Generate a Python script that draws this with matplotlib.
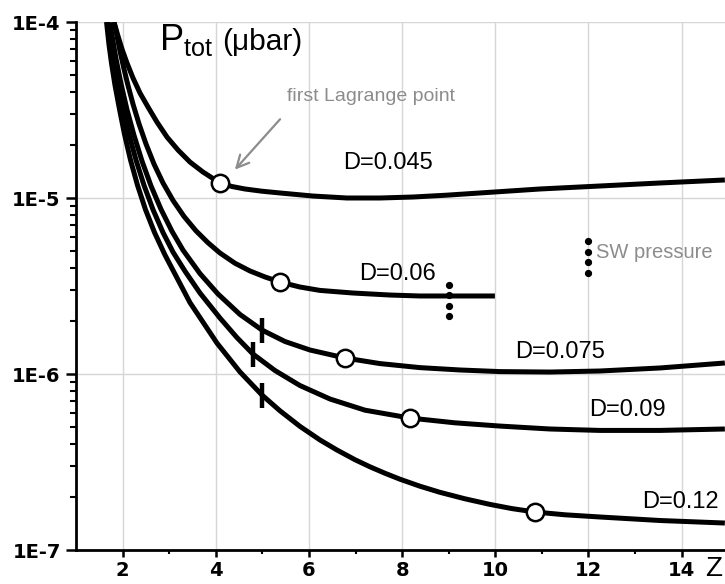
import matplotlib
matplotlib.use("Agg")
import matplotlib.pyplot as plt
from matplotlib.ticker import FixedLocator, LogLocator, NullFormatter

plt.rcParams['font.family'] = ['Liberation Sans', 'DejaVu Sans']
plt.rcParams['mathtext.fontset'] = 'custom'
plt.rcParams['mathtext.rm'] = 'Liberation Sans'

# ---- data ----
x_045 = [1.815, 1.901, 1.987, 2.094, 2.223, 2.373, 2.545, 2.738, 2.953, 3.189, 3.446, 3.725,
         4.090, 4.348, 4.627, 4.991, 5.378, 6.086, 6.815, 7.524, 8.232, 8.940, 9.670,
         10.957, 12.245, 13.532, 14.927]
y_045 = [1.0e-4, 8.33e-5, 7.02e-5, 5.85e-5, 4.81e-5, 3.95e-5, 3.29e-5, 2.70e-5, 2.22e-5,
         1.874e-5, 1.601e-5, 1.405e-5, 1.217e-5, 1.162e-5, 1.125e-5, 1.093e-5, 1.068e-5,
         1.026e-5, 1.0e-5, 1.0e-5, 1.013e-5, 1.037e-5, 1.068e-5, 1.125e-5, 1.170e-5,
         1.217e-5, 1.266e-5]

x_06 = [1.815, 1.858, 1.944, 2.030, 2.116, 2.223, 2.352, 2.502, 2.674, 2.867, 3.082, 3.318,
        3.575, 3.833, 4.090, 4.412, 4.734, 5.056, 5.378, 5.807, 6.236, 6.944, 7.738, 8.382,
        9.240, 9.991]
y_06 = [1.0e-4, 8.89e-5, 6.84e-5, 5.41e-5, 4.36e-5, 3.42e-5, 2.64e-5, 2.03e-5, 1.56e-5,
        1.218e-5, 9.69e-6, 7.86e-6, 6.51e-6, 5.57e-6, 4.87e-6, 4.26e-6, 3.85e-6, 3.56e-6,
        3.33e-6, 3.12e-6, 2.985e-6, 2.885e-6, 2.81e-6, 2.775e-6, 2.775e-6, 2.775e-6]

x_075 = [1.730, 1.773, 1.858, 1.966, 2.094, 2.245, 2.416, 2.609, 2.824, 3.060, 3.296, 3.661,
         4.047, 4.519, 4.991, 5.485, 6.021, 6.773, 7.524, 8.382, 9.240, 10.099, 11.172,
         12.245, 13.532, 14.927]
y_075 = [9.94e-5, 8.38e-5, 6.19e-5, 4.46e-5, 3.18e-5, 2.27e-5, 1.623e-5, 1.173e-5, 8.63e-6,
         6.47e-6, 5.06e-6, 3.72e-6, 2.85e-6, 2.18e-6, 1.778e-6, 1.530e-6, 1.369e-6, 1.233e-6,
         1.146e-6, 1.087e-6, 1.054e-6, 1.032e-6, 1.026e-6, 1.040e-6, 1.082e-6, 1.155e-6]

x_09 = [1.687, 1.751, 1.815, 1.901, 2.009, 2.137, 2.288, 2.459, 2.652, 2.867, 3.082, 3.339,
        3.661, 4.090, 4.455, 4.798, 5.270, 5.807, 6.451, 7.202, 8.167, 9.133, 10.099,
        11.172, 12.245, 13.532, 14.927]
y_09 = [1.0e-4, 7.44e-5, 5.83e-5, 4.37e-5, 3.20e-5, 2.30e-5, 1.644e-5, 1.182e-5, 8.60e-6,
        6.37e-6, 4.93e-6, 3.84e-6, 2.885e-6, 2.08e-6, 1.610e-6, 1.299e-6, 1.047e-6, 8.60e-7,
        7.21e-7, 6.23e-7, 5.62e-7, 5.28e-7, 5.06e-7, 4.87e-7, 4.78e-7, 4.78e-7, 4.87e-7]

x_12 = [1.655, 1.708, 1.762, 1.837, 1.933, 2.041, 2.170, 2.320, 2.491, 2.685, 2.910, 3.446,
        4.026, 4.519, 4.991, 5.378, 5.807, 6.236, 6.601, 6.987, 7.309, 7.631, 7.953, 8.382,
        8.811, 9.348, 9.884, 10.356, 10.850, 11.494, 12.245, 13.532, 14.927]
y_12 = [1.0e-4, 7.44e-5, 5.83e-5, 4.37e-5, 3.20e-5, 2.30e-5, 1.644e-5, 1.182e-5, 8.60e-6,
        6.37e-6, 4.745e-6, 2.545e-6, 1.498e-6, 1.028e-6, 7.60e-7, 6.18e-7, 5.04e-7, 4.22e-7,
        3.70e-7, 3.26e-7, 2.97e-7, 2.73e-7, 2.525e-7, 2.304e-7, 2.127e-7, 1.954e-7, 1.816e-7,
        1.719e-7, 1.644e-7, 1.585e-7, 1.540e-7, 1.471e-7, 1.423e-7]

# first Lagrange points (open circles)
lag_x = [4.090, 5.378, 6.773, 8.167, 10.850]
lag_y = [1.217e-5, 3.33e-6, 1.233e-6, 5.62e-7, 1.644e-7]

# vertical bar marks
bar_x = [4.991, 4.798, 4.991]
bar_y = [1.778e-6, 1.299e-6, 7.60e-7]

# SW pressure dots
sw_x = [9, 9, 9, 9, 12, 12, 12, 12]
sw_y = [3.21e-6, 2.81e-6, 2.43e-6, 2.14e-6, 5.70e-6, 4.93e-6, 4.33e-6, 3.75e-6]

labels = ["D=0.045", "D=0.06", "D=0.075", "D=0.09", "D=0.12"]
label_x = [6.73, 7.07, 10.42, 12.01, 13.15]
label_y = [1.58e-5, 3.70e-6, 1.33e-6, 6.24e-7, 1.87e-7]

x_ticks = [2, 4, 6, 8, 10, 12, 14]
y_ticks = [1e-7, 1e-6, 1e-5, 1e-4]
y_ticklabels = ["1E-7", "1E-6", "1E-5", "1E-4"]

# ---- figure ----
fig = plt.figure(figsize=(7.25, 5.84), dpi=100)
ax = fig.add_axes([76 / 725, 34 / 584, 1 - 76 / 725, 528 / 584])
ax.set_yscale('log')
ax.set_xlim(1, 14.93)
ax.set_ylim(1e-7, 1e-4)

ax.grid(True, which='major', color='#d6d6d6', lw=1.0)
ax.set_axisbelow(True)

for xs, ys in [(x_045, y_045), (x_06, y_06), (x_075, y_075), (x_09, y_09), (x_12, y_12)]:
    ax.plot(xs, ys, color='black', lw=3.6, solid_capstyle='butt', solid_joinstyle='round', zorder=3)

ax.plot(bar_x, bar_y, ls='none', marker='|', ms=18, mew=3.2, color='black', zorder=4)
ax.plot(lag_x, lag_y, ls='none', marker='o', ms=12.5, mfc='white', mec='black', mew=1.8, zorder=5)
ax.plot(sw_x, sw_y, ls='none', marker='o', ms=4.2, color='black', zorder=5)

for t, lx, ly in zip(labels, label_x, label_y):
    ax.text(lx, ly, t, fontsize=17, va='center', ha='left', color='black')

ax.text(12.16, 4.93e-6, "SW pressure", fontsize=14.5, va='center', ha='left', color='#8c8c8c')
ax.text(5.53, 3.75e-5, "first Lagrange point", fontsize=14, va='center', ha='left', color='#8c8c8c')
ax.annotate("", xy=(4.37, 1.41e-5), xytext=(5.42, 2.88e-5),
            arrowprops=dict(arrowstyle='->', color='#8c8c8c', lw=1.6, mutation_scale=22))

ax.text(2.78, 6.93e-5, r"P$_{\mathregular{tot}}$", fontsize=26, va='baseline', ha='left')
ax.text(4.14, 6.93e-5, "(μbar)", fontsize=21.5, va='baseline', ha='left')

# axes styling
for s in ['top', 'right']:
    ax.spines[s].set_visible(False)
for s in ['left', 'bottom']:
    ax.spines[s].set_linewidth(2.0)

ax.xaxis.set_major_locator(FixedLocator(x_ticks))
ax.xaxis.set_minor_locator(FixedLocator([3, 5, 7, 9, 11, 13]))
ax.set_xticklabels([str(v) for v in x_ticks], fontsize=14, fontweight='bold', family='DejaVu Sans')
ax.yaxis.set_major_locator(FixedLocator(y_ticks))
ax.yaxis.set_minor_locator(LogLocator(base=10, subs=range(2, 10)))
ax.yaxis.set_minor_formatter(NullFormatter())
ax.set_yticklabels(y_ticklabels, fontsize=14, fontweight='bold', family='DejaVu Sans')

ax.tick_params(axis='x', which='major', direction='out', length=5, width=1.8, pad=3)
ax.tick_params(axis='x', which='minor', direction='out', length=3, width=1.5)
ax.tick_params(axis='y', which='major', direction='out', length=7, width=1.8, pad=4)
ax.tick_params(axis='y', which='minor', direction='out', length=4.3, width=1.5)

fig.text(705 / 725, 1 - 569 / 584, "Z", fontsize=20, va='center', ha='left')

fig.savefig("out.png", dpi=100)
